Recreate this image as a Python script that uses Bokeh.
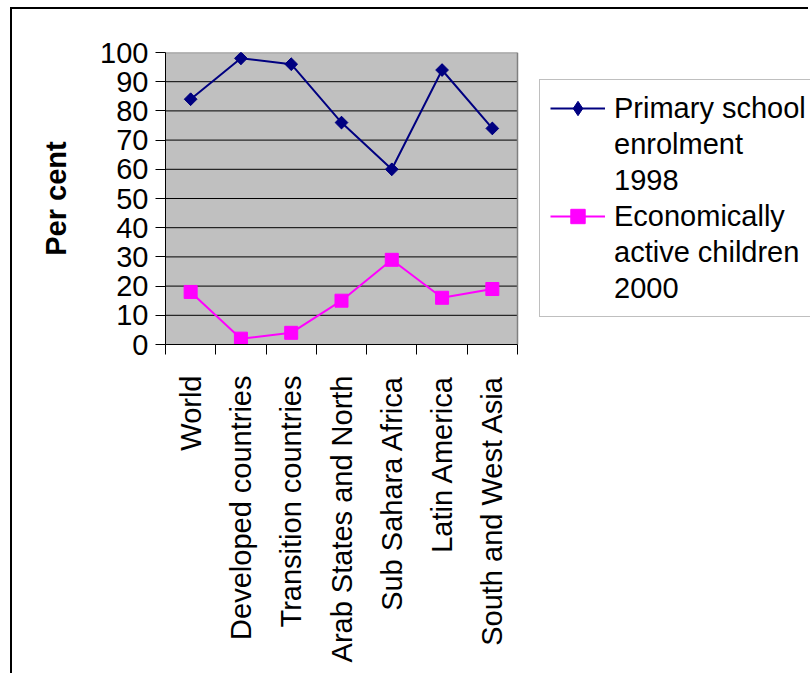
from math import pi
from bokeh.plotting import figure
from bokeh.models import (Range1d, LinearAxis, FixedTicker, Legend, LegendItem,
                          ColumnDataSource, BoxAnnotation)
from bokeh.embed import file_html
from bokeh.resources import INLINE

# ---- data ----
categories = ["World", "Developed countries", "Transition countries",
              "Arab States and North", "Sub Sahara Africa", "Latin America",
              "South and West Asia"]
primary_1998 = [84, 98, 96, 76, 60, 94, 74]
active_2000 = [18, 2, 4, 15, 29, 16, 19]
y_ticks = list(range(0, 101, 10))
legend_primary = ["Primary school", "enrolment", "1998"]
legend_active = ["Economically", "active children", "2000"]

FONT = "Liberation Sans"
NAVY = "#000080"
MAGENTA = "#FF00FF"
AREA = "#C0C0C0"
EDGE = "#808080"

# canvas / layout geometry (pixels)
W, H = 798, 666
FL, FT, FB = 153, 43, 335          # frame left / top / bottom inside the canvas
PLOT_AREA_W = 352                  # width of the grey plotting area

n = len(categories)
centres = [i + 0.5 for i in range(n)]
edges = list(range(n + 1))
ymin, ymax = y_ticks[0], y_ticks[-1]

# frame spans to the right edge of the canvas so that the legend is not clipped
x_end = n * (W - FL) / PLOT_AREA_W

p = figure(width=W, height=H, x_range=Range1d(0, x_end), y_range=Range1d(ymin, ymax),
           output_backend="svg", toolbar_location=None, x_axis_location=None,
           min_border_left=FL, min_border_top=FT, min_border_right=0,
           min_border_bottom=H - FB)
p.styles = {"border-top": "2px solid black", "border-left": "2px solid black",
            "margin-left": "10px", "margin-top": "7px"}

p.background_fill_color = "white"
p.border_fill_color = "white"
p.outline_line_color = None
p.xgrid.visible = False
p.ygrid.visible = False

# grey plotting area
p.add_layout(BoxAnnotation(left=0, right=n, bottom=ymin, top=ymax, fill_color=AREA,
                           fill_alpha=1, line_color=None, level="underlay"))

# y axis
ya = p.yaxis[0]
ya.ticker = FixedTicker(ticks=y_ticks)
ya.major_tick_out = 10
ya.major_tick_in = 0
ya.minor_tick_line_color = None
ya.axis_line_color = "black"
ya.major_tick_line_color = "black"
ya.major_label_text_font = FONT
ya.major_label_text_font_size = "29px"
ya.major_label_text_color = "black"
ya.major_label_standoff = 7
ya.axis_label = "Per cent"
ya.axis_label_text_font = FONT
ya.axis_label_text_font_size = "29px"
ya.axis_label_text_font_style = "bold"
ya.axis_label_text_color = "black"
ya.axis_label_standoff = 25

# horizontal grid lines and grey top/right edge of the plotting area
inner = y_ticks[1:-1]
p.segment(x0=[0] * len(inner), y0=inner, x1=[n] * len(inner), y1=inner,
          line_color="black", line_width=1)
p.segment(x0=[0, n], y0=[ymax, ymin], x1=[n, n], y1=[ymax, ymax],
          line_color=EDGE, line_width=1.5)

# x axes: tick marks at category boundaries + labels at centres
tick_axis = LinearAxis(ticker=FixedTicker(ticks=edges), bounds=(0, n),
                       major_label_overrides={e: "" for e in edges},
                       major_tick_out=10, major_tick_in=0, minor_tick_line_color=None,
                       major_label_text_font_size="10px", major_label_standoff=0,
                       axis_line_color="black", major_tick_line_color="black")
label_axis = LinearAxis(ticker=FixedTicker(ticks=centres),
                        major_label_overrides={c: name for c, name in zip(centres, categories)},
                        major_tick_line_color=None, axis_line_color=None,
                        minor_tick_line_color=None,
                        major_label_orientation=pi / 2,
                        major_label_text_font=FONT, major_label_text_font_size="29px",
                        major_label_text_color="black", major_label_standoff=15)
p.add_layout(tick_axis, "below")
p.add_layout(label_axis, "below")

src = ColumnDataSource(dict(x=centres, primary=primary_1998, active=active_2000))
l1 = p.line("x", "primary", source=src, line_color=NAVY, line_width=2)
# diamond swatch for the legend, hidden underneath the rotated-square markers
diamond_key = p.scatter("x", "primary", source=src, marker="diamond", size=12,
                        fill_color=NAVY, line_color=NAVY)
m1 = p.scatter("x", "primary", source=src, marker="square", angle=pi / 4, size=9,
               fill_color=NAVY, line_color=NAVY)
l2 = p.line("x", "active", source=src, line_color=MAGENTA, line_width=2)
m2 = p.scatter("x", "active", source=src, marker="square", size=13,
               fill_color=MAGENTA, line_color=MAGENTA)
dummy = p.line(x=[], y=[], line_alpha=0)

items = [LegendItem(label=legend_primary[0], renderers=[l1, diamond_key])]
items += [LegendItem(label=t, renderers=[dummy]) for t in legend_primary[1:]]
items += [LegendItem(label=legend_active[0], renderers=[l2, m2])]
items += [LegendItem(label=t, renderers=[dummy]) for t in legend_active[1:]]

legend = Legend(items=items, location=(PLOT_AREA_W + 22, 27), label_text_font=FONT,
                label_text_font_size="29px", label_text_color="black",
                glyph_width=55, glyph_height=36, label_height=36, label_standoff=9,
                padding=10, spacing=0, margin=0, border_line_color=EDGE,
                border_line_width=1, background_fill_color="white",
                background_fill_alpha=1)
p.add_layout(legend, "center")

open("out.html", "w").write(file_html(p, INLINE))
